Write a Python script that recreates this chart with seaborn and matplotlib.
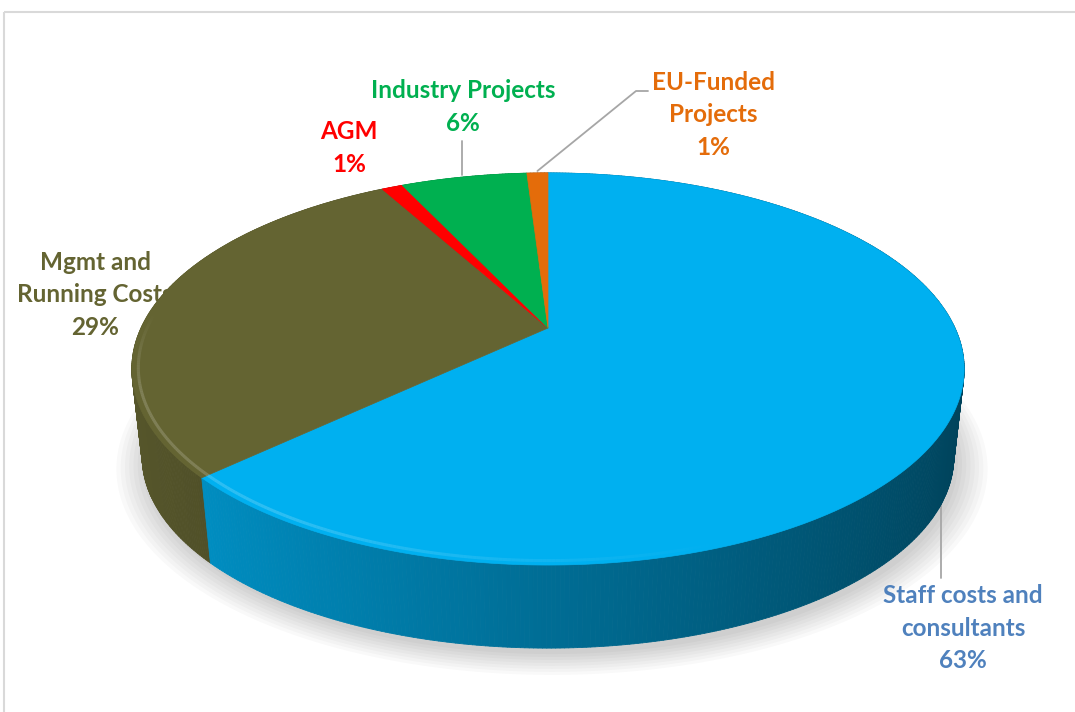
import numpy as np
import matplotlib
matplotlib.use("Agg")
import matplotlib.pyplot as plt
import seaborn as sns
from matplotlib.patches import Polygon, Rectangle
from matplotlib.collections import PolyCollection, LineCollection
from matplotlib.colors import to_rgb

# data (clockwise from 12 o'clock)
categories = ["Staff costs and\nconsultants", "Mgmt and\nRunning Costs", "AGM",
              "Industry Projects", "EU-Funded\nProjects"]
shares = [63, 29, 1, 6, 1]
colors = ["#00B0F0", "#646432", "#FF0000", "#00B050", "#E46C0A"]
label_colors = ["#4F81BD", "#646432", "#FF0000", "#00B050", "#E46C0A"]

sns.set_theme(style="white")
plt.rcParams['font.family'] = ['Lato', 'DejaVu Sans']

W, H = 1075, 712
fig = plt.figure(figsize=(W / 100, H / 100), dpi=100)
ax = fig.add_axes([0, 0, 1, 1])
ax.set_xlim(0, W)
ax.set_ylim(H, 0)
ax.axis('off')

# frame
ax.add_patch(Rectangle((4, 12), W, H, fill=False, ec="#D9D9D9", lw=1.5, zorder=0))

# perspective of the tilted disc
cx, cy = 548, 328
a, b, k = 407, 187.5, 0.209
depth, shrink = 89, 0.975


def project(theta, r=1.0, z=0.0):
    t = np.radians(theta)
    x = r * np.cos(t)
    y = r * np.sin(t)
    w = 1 + k * y
    s = 1 - (1 - shrink) * z
    return cx + s * a * x / w, cy - s * b * y / w + depth * z


total = sum(shares)
edges = 90 - 360 * np.cumsum([0] + shares) / total

# soft shadow under the pie
th = np.linspace(0, 360, 361)
for i, r in enumerate(np.linspace(1.07, 1.0, 8)):
    sx, sy = project(th, r, 1)
    ax.add_patch(Polygon(np.c_[sx + 4, sy + 6], closed=True, fc="#000000",
                         ec="none", alpha=0.025, zorder=1))

# side walls, drawn far to near
quads, qcols, order = [], [], []
for i in range(len(shares)):
    t0, t1 = edges[i], edges[i + 1]
    n = max(int(abs(t0 - t1) * 2), 2)
    ts = np.linspace(t0, t1, n)
    base = np.array(to_rgb(colors[i]))
    for ta, tb in zip(ts[:-1], ts[1:]):
        xa, ya = project(ta)
        xb, yb = project(tb)
        xa2, ya2 = project(ta, z=1)
        xb2, yb2 = project(tb, z=1)
        quads.append([(xa, ya), (xb, yb), (xb2, yb2), (xa2, ya2)])
        tm = np.radians((ta + tb) / 2)
        shade = 0.62 - 0.25 * np.cos(tm)
        qcols.append(np.clip(base * shade, 0, 1))
        order.append(np.sin(tm))
idx = np.argsort(order)[::-1]
pc = PolyCollection([quads[j] for j in idx], facecolors=[qcols[j] for j in idx],
                    edgecolors=[qcols[j] for j in idx], linewidths=0.6, zorder=3)
ax.add_collection(pc)

# top faces
for i in range(len(shares)):
    ts = np.linspace(edges[i], edges[i + 1], max(int(abs(edges[i] - edges[i + 1]) * 2), 3))
    px, py = project(ts)
    pts = np.vstack([[cx, cy], np.c_[px, py]])
    ax.add_patch(Polygon(pts, closed=True, fc=colors[i], ec=colors[i], lw=0.5, zorder=4))
    # bevel highlight on the front-left rim, fading out to the sides
    rad = np.radians(ts)
    wgt = np.clip((0.35 - np.cos(rad)) / 0.9, 0, 1) * np.clip(-np.sin(rad) * 2.5 + 0.2, 0, 1)
    hx, hy = project(ts, r=0.985)
    segs = [[(hx[j], hy[j]), (hx[j + 1], hy[j + 1])] for j in range(len(ts) - 1)]
    light = 0.55 * np.array(to_rgb(colors[i])) + 0.45
    seg_cols = [(*light, 0.4 * (wgt[j] + wgt[j + 1]) / 2) for j in range(len(ts) - 1)]
    ax.add_collection(LineCollection(segs, colors=seg_cols, linewidths=2.2, zorder=5))

# labels
mid = (edges[:-1] + edges[1:]) / 2
fs = 17.5
kw = dict(ha="center", va="center", fontsize=fs, fontweight="bold",
          linespacing=1.5, zorder=2)
lc = "#A6A6A6"

ax.text(963, 628, f"{categories[0]}\n{shares[0]}%", color=label_colors[0], **kw)
sx, sy = project(mid[0], z=1)
ax.plot([sx - 4, sx - 4], [sy + 8, 578], color=lc, lw=1.3, zorder=2)

ax.text(95, 295, f"{categories[1]}\n{shares[1]}%", color=label_colors[1], **kw)

ax.text(349, 148, f"{categories[2]}\n{shares[2]}%", color=label_colors[2], **kw)

ax.text(463, 107, f"{categories[3]}\n{shares[3]}%", color=label_colors[3], **kw)
ix, iy = project(mid[3])
ax.plot([ix - 2, ix - 2], [iy - 2, 141], color=lc, lw=1.3, zorder=2)

ax.text(713, 115, f"{categories[4]}\n{shares[4]}%", color=label_colors[4], **kw)
ex, ey = project(mid[4])
ax.plot([ex, 636, 648], [ey - 2, 91, 91], color=lc, lw=1.3, zorder=2)

fig.savefig("out.png", dpi=100)
